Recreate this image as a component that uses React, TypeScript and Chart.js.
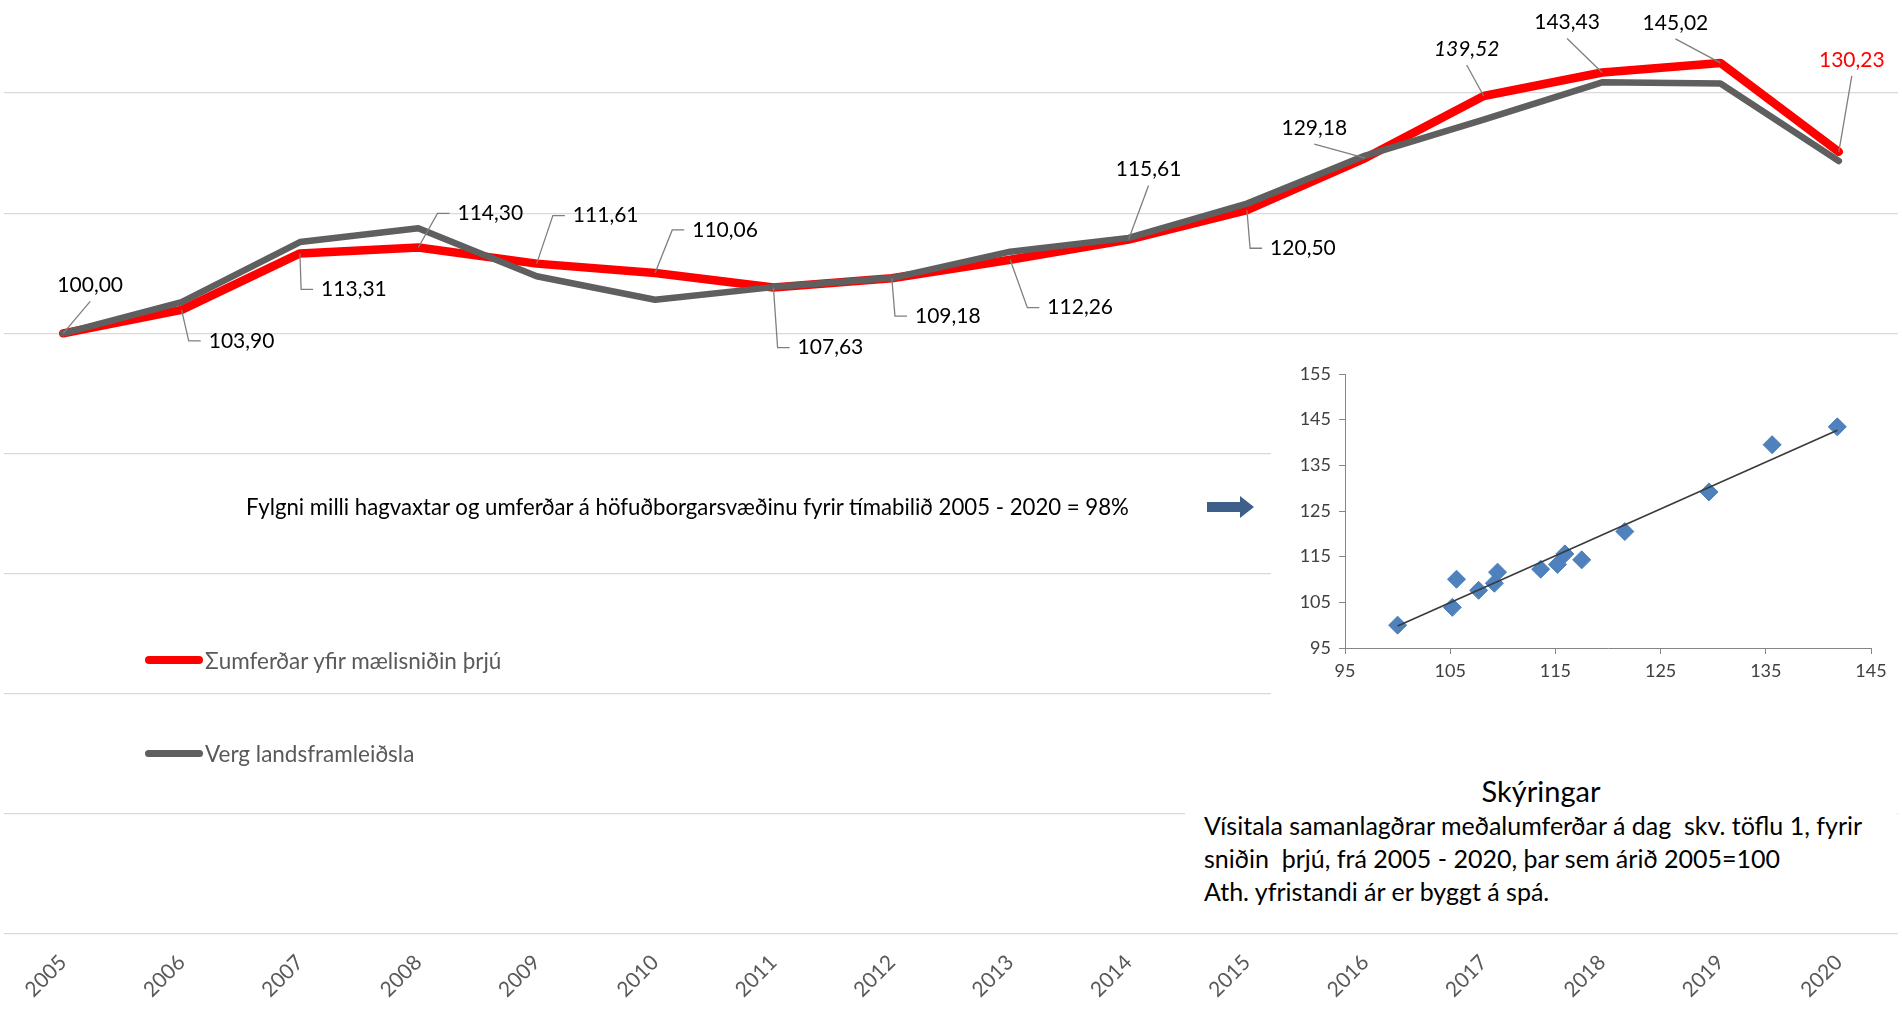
import React, { useEffect, useRef } from 'react';
import { Chart, registerables } from 'chart.js';

Chart.register(...registerables);

// ---------- data ----------
const years = ['2005', '2006', '2007', '2008', '2009', '2010', '2011', '2012', '2013', '2014', '2015', '2016', '2017', '2018', '2019', '2020'];
const traffic = [100.0, 103.9, 113.31, 114.3, 111.61, 110.06, 107.63, 109.18, 112.26, 115.61, 120.5, 129.18, 139.52, 143.43, 145.02, 130.23];
const gdp = [100.0, 105.2, 115.2, 117.5, 109.5, 105.6, 107.7, 109.2, 113.6, 115.9, 121.6, 129.6, 135.6, 141.8, 141.6, 128.7];
const trafficLabel = 'Σumferðar yfir mælisniðin þrjú';
const gdpLabel = 'Verg landsframleiðsla';
const insetYearCount = 14; // inset scatter shows 2005–2018
const trendX = [100, 141.8];
const trendY = [99.8, 142.7];
const mainYTickStep = 20;
const insetTickStep = 10;
const italicLabelYears = ['2017'];
const redLabelYears = ['2020'];
const correlationText = 'Fylgni milli hagvaxtar og umferðar á höfuðborgarsvæðinu fyrir tímabilið 2005 - 2020 = 98%';
const notesTitle = 'Skýringar';
const notesLines = [
  'Vísitala samanlagðrar meðalumferðar á dag  skv. töflu 1, fyrir',
  'sniðin  þrjú, frá 2005 - 2020, þar sem árið 2005=100',
  'Ath. yfristandi ár er byggt á spá.',
];

// ---------- layout (label offsets from their point, in px) ----------
const labelOffsets: [number, number][] = [
  [27, -48], [60, 31], [54, 36], [72, -34], [69, -48], [70, -43], [57, 60], [56, 38],
  [70, 48], [20, -70], [56, 38], [-51, -30], [-17, -47], [-35, -50], [-45, -40], [13, -92],
];

const FONT = 'Lato, "Open Sans", sans-serif';
const fmt = (v: number) => v.toFixed(2).replace('.', ',');

const valueLabels = {
  id: 'valueLabels',
  afterDatasetsDraw(chart: any) {
    const meta = chart.getDatasetMeta(1);
    const ctx = chart.ctx as CanvasRenderingContext2D;
    ctx.save();
    meta.data.forEach((pt: any, i: number) => {
      const [dx, dy] = labelOffsets[i];
      const cx = pt.x + dx;
      const cy = pt.y + dy;
      const text = fmt(traffic[i]);
      const italic = italicLabelYears.includes(years[i]);
      ctx.font = `${italic ? 'italic ' : ''}21px ${FONT}`;
      const w = ctx.measureText(text).width;
      const left = cx - w / 2;
      ctx.strokeStyle = '#7f7f7f';
      ctx.lineWidth = 1.3;
      ctx.beginPath();
      if (left > pt.x + 10) {
        ctx.moveTo(pt.x, pt.y);
        ctx.lineTo(left - 20, cy);
        ctx.lineTo(left - 8, cy);
      } else {
        ctx.moveTo(cx, cy + 16);
        ctx.lineTo(pt.x, pt.y);
      }
      ctx.stroke();
      ctx.fillStyle = redLabelYears.includes(years[i]) ? '#ff0000' : '#000000';
      ctx.textAlign = 'center';
      ctx.textBaseline = 'middle';
      ctx.fillText(text, cx, cy);
    });
    ctx.restore();
  },
};

function LegendRow({ x, y, color, thickness, text }: { x: number; y: number; color: string; thickness: number; text: string }) {
  return (
    <div style={{ position: 'absolute', left: x, top: y - 15, height: 30, display: 'flex', alignItems: 'center' }}>
      <div style={{ width: 58, height: thickness, background: color, borderRadius: thickness / 2, marginRight: 2 }} />
      <span style={{ font: `22.5px ${FONT}`, color: '#595959', whiteSpace: 'pre' }}>{text}</span>
    </div>
  );
}

export default function App() {
  const mainRef = useRef<HTMLCanvasElement>(null);
  const insetRef = useRef<HTMLCanvasElement>(null);

  useEffect(() => {
    document.body.style.margin = '0';
    document.body.style.overflow = 'hidden';
    let main: Chart | null = null;
    let inset: Chart | null = null;
    let cancelled = false;

    const build = () => {
      if (cancelled || !mainRef.current || !insetRef.current) return;
      main = new Chart(mainRef.current, {
        type: 'line',
        data: {
          labels: years,
          datasets: [
            {
              label: gdpLabel, data: gdp, borderColor: '#5f5f5f', backgroundColor: '#5f5f5f',
              borderWidth: 6.5, pointRadius: 0, borderCapStyle: 'round', borderJoinStyle: 'round', tension: 0,
            },
            {
              label: trafficLabel, data: traffic, borderColor: '#ff0000', backgroundColor: '#ff0000',
              borderWidth: 8.5, pointRadius: 0, borderCapStyle: 'round', borderJoinStyle: 'round', tension: 0,
            },
          ],
        },
        options: {
          responsive: false,
          animation: false,
          events: [],
          layout: { padding: { left: 4, right: 4, top: 0, bottom: 0 } },
          plugins: { legend: { display: false }, tooltip: { enabled: false } },
          scales: {
            x: {
              offset: true,
              grid: { display: false, drawTicks: false, offset: true },
              border: { display: false },
              ticks: { color: '#595959', font: { family: FONT, size: 21 }, minRotation: 45, maxRotation: 45, padding: 16, autoSkip: false },
              afterFit: (s: any) => { s.height = 79; s.paddingLeft = 0; s.paddingRight = 0; },
            },
            y: {
              min: 0,
              max: 155.5,
              ticks: { display: false, stepSize: mainYTickStep, includeBounds: false },
              grid: { color: '#d9d9d9', lineWidth: 1.3, drawTicks: false },
              border: { display: false },
              afterFit: (s: any) => { s.width = 0; },
            },
          },
        },
        plugins: [valueLabels],
      } as any);

      const points = gdp.slice(0, insetYearCount).map((x, i) => ({ x, y: traffic[i] }));
      const trend = trendX.map((x, i) => ({ x, y: trendY[i] }));
      const tickFont = { family: FONT, size: 18 };
      inset = new Chart(insetRef.current, {
        type: 'scatter',
        data: {
          datasets: [
            { data: trend, showLine: true, borderColor: '#3a3a3a', borderWidth: 1.6, pointRadius: 0 },
            { data: points, pointStyle: 'rectRot', pointRadius: 9, backgroundColor: '#4f81bd', borderColor: '#4a7ebb', borderWidth: 1 },
          ],
        },
        options: {
          responsive: false,
          animation: false,
          events: [],
          layout: { padding: { left: 0, right: 31, top: 24, bottom: 0 } },
          plugins: { legend: { display: false }, tooltip: { enabled: false } },
          scales: {
            x: {
              type: 'linear', min: 95, max: 145,
              ticks: { stepSize: insetTickStep, color: '#404040', font: tickFont, padding: 6 },
              grid: { drawOnChartArea: false, color: '#868686', tickLength: 6 },
              border: { color: '#868686' },
              afterFit: (s: any) => { s.height = 68; },
            },
            y: {
              min: 95, max: 155,
              ticks: { stepSize: insetTickStep, color: '#404040', font: tickFont, padding: 8 },
              grid: { drawOnChartArea: false, color: '#868686', tickLength: 6 },
              border: { color: '#868686' },
              afterFit: (s: any) => { s.width = 74; },
            },
          },
        },
      } as any);
    };

    if ((document as any).fonts && (document as any).fonts.load) {
      Promise.all([
        (document as any).fonts.load(`21px Lato`),
        (document as any).fonts.load(`italic 21px Lato`),
      ]).then(build, build);
    } else {
      build();
    }

    return () => {
      cancelled = true;
      if (main) main.destroy();
      if (inset) inset.destroy();
    };
  }, []);

  return (
    <div style={{ position: 'relative', width: 1902, height: 1013, overflow: 'hidden', background: '#fff' }}>
      <canvas ref={mainRef} width={1902} height={1013} style={{ position: 'absolute', left: 0, top: 0 }} />

      <LegendRow x={145} y={660} color="#ff0000" thickness={8} text={trafficLabel} />
      <LegendRow x={145} y={753} color="#5f5f5f" thickness={7} text={gdpLabel} />

      <div style={{ position: 'absolute', left: 246, top: 493, font: `22.2px ${FONT}`, lineHeight: '28px', color: '#000', whiteSpace: 'pre' }}>
        {correlationText}
      </div>

      <svg style={{ position: 'absolute', left: 1207, top: 496 }} width={47} height={22}>
        <polygon points="0,6 33,6 33,0 47,11 33,22 33,16 0,16" fill="#3e5f8a" />
      </svg>

      <div style={{ position: 'absolute', left: 1271, top: 350, width: 631, height: 366, background: '#fff' }}>
        <canvas ref={insetRef} width={631} height={366} />
      </div>

      <div style={{ position: 'absolute', left: 1185, top: 770, width: 712, height: 148, background: '#fff' }}>
        <div style={{ position: 'absolute', left: 0, top: 4, width: 712, textAlign: 'center', font: `29px ${FONT}`, lineHeight: '34px', color: '#000' }}>
          {notesTitle}
        </div>
        <div style={{ position: 'absolute', left: 19, top: 39, font: `25px ${FONT}`, lineHeight: '33px', color: '#000', whiteSpace: 'pre' }}>
          {notesLines.map((l, i) => (<div key={i}>{l}</div>))}
        </div>
      </div>
    </div>
  );
}
